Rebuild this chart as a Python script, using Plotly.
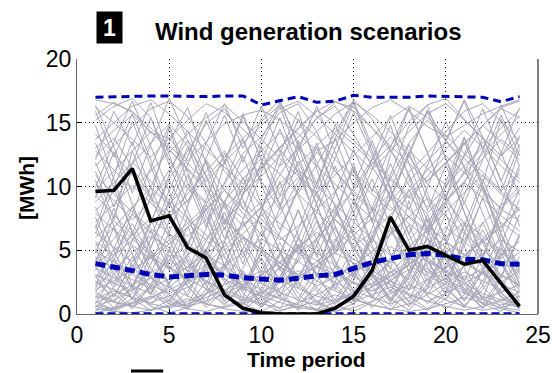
import plotly.graph_objects as go

periods = list(range(1, 25))

# Highlighted scenario (black)
highlight = [9.6, 9.7, 11.4, 7.3, 7.7, 5.2, 4.4, 1.5, 0.45, 0.1, 0.0, 0.0, 0.0, 0.45,
             1.4, 3.4, 7.6, 5.0, 5.3, 4.6, 3.9, 4.2, 2.4, 0.6]
# Mean of scenarios (thick blue dashed)
mean_vals = [3.95, 3.7, 3.4, 3.1, 2.9, 3.0, 3.1, 3.05, 2.85, 2.75, 2.65, 2.8, 3.0, 3.1,
             3.6, 4.05, 4.35, 4.65, 4.75, 4.6, 4.3, 4.25, 3.95, 3.9]
# Upper bound (blue dashed)
upper_vals = [17.0, 17.05, 17.05, 17.1, 17.1, 17.05, 17.05, 17.1, 17.1, 16.4, 16.7, 17.05,
              16.6, 16.7, 17.15, 17.0, 17.0, 17.0, 17.1, 17.05, 17.0, 17.0, 16.65, 17.05]
# Lower bound (blue dashed)
lower_vals = [0.0] * 24

# Gray scenarios
s01 = [16.8,16.5,15.9,14.2,13.8,12.0,13.5,14.9,15.6,16.0,15.2,14.1,12.8,13.6,15.0,16.2,16.8,15.9,14.7,13.9,14.8,15.7,16.3,16.8]
s02 = [15.2,16.3,16.9,15.4,12.1,9.8,8.7,10.2,12.6,13.9,15.8,16.5,14.3,11.2,9.6,11.8,13.2,15.1,16.4,16.9,15.3,13.8,12.4,14.6]
s03 = [12.4,13.8,11.5,9.2,10.6,12.8,14.9,16.1,13.7,10.4,8.2,9.5,11.7,14.2,16.8,15.3,12.9,10.1,8.4,9.9,12.3,14.8,16.1,15.4]
s04 = [10.2,8.9,7.4,8.8,11.3,13.6,12.1,9.7,7.9,6.2,7.8,10.4,12.7,11.2,9.4,8.1,10.6,13.4,15.2,13.7,11.5,9.8,8.2,7.3]
s05 = [8.1,9.6,11.8,13.4,14.9,13.2,10.8,8.5,6.9,8.4,10.9,13.1,15.4,16.3,14.1,11.6,9.2,7.6,6.3,8.7,11.2,13.5,12.1,10.6]
s06 = [6.4,5.2,4.1,5.8,7.9,9.4,11.2,12.8,10.6,8.3,6.1,4.7,5.9,7.6,9.8,12.1,13.9,12.4,10.2,8.9,7.1,5.6,6.8,8.4]
s07 = [4.2,5.9,7.8,6.4,4.9,3.6,5.1,7.2,9.3,11.4,12.9,11.1,9.2,7.4,5.8,4.3,3.2,4.8,6.7,8.9,10.4,12.2,13.7,12.5]
s08 = [3.1,2.4,1.8,2.9,4.2,5.6,4.3,3.1,2.2,1.6,2.8,4.1,5.9,7.4,6.2,4.8,3.6,2.7,3.9,5.2,4.1,3.2,2.5,3.4]
s09 = [2.2,3.4,4.8,6.1,5.2,3.9,2.6,1.7,1.1,0.8,1.5,2.7,3.8,3.1,2.4,1.8,2.6,3.9,5.4,6.8,5.7,4.4,3.1,2.2]
s10 = [1.4,0.9,0.6,1.2,2.1,3.3,4.6,3.8,2.7,1.9,1.2,0.7,0.4,0.9,1.7,2.8,4.1,5.3,4.4,3.3,2.4,1.6,1.1,0.8]
s11 = [0.6,1.1,1.9,2.8,2.1,1.4,0.8,0.5,0.9,1.6,2.5,3.4,2.6,1.8,1.2,0.7,0.4,0.8,1.5,2.4,3.3,2.6,1.9,1.3]
s12 = [5.3,6.8,8.4,9.9,8.6,7.1,5.8,4.4,3.2,2.5,3.6,5.1,6.7,8.2,9.6,8.3,6.9,5.4,4.1,3.3,4.5,5.9,7.2,6.1]
s13 = [14.1,12.6,10.9,9.1,7.6,8.9,10.7,12.3,13.8,15.1,16.4,15.2,13.9,12.1,10.8,9.4,8.1,9.6,11.3,12.9,14.4,13.1,11.6,10.3]
s14 = [11.6,13.2,14.7,16.1,16.7,15.5,13.4,11.2,9.5,10.8,12.4,13.9,15.3,16.6,16.2,14.6,12.8,11.1,12.6,14.3,15.9,16.5,15.1,13.6]
s15 = [9.3,7.8,6.2,4.9,3.7,2.8,3.9,5.3,6.8,8.4,9.9,11.3,10.1,8.6,7.2,5.9,4.6,5.8,7.3,8.8,10.3,9.1,7.7,6.5]
s16 = [7.2,8.6,10.1,8.7,7.3,6.1,7.4,8.9,10.6,12.2,11.0,9.4,8.0,6.6,5.3,6.4,7.8,9.3,10.8,12.4,11.1,9.6,8.3,9.7]
s17 = [2.8,3.9,3.1,2.3,1.6,2.4,3.5,4.7,6.0,5.1,4.0,3.0,2.2,2.9,3.8,4.9,6.3,7.7,6.5,5.2,4.0,3.1,2.3,1.7]
s18 = [0.3,0.5,0.9,1.4,0.8,0.4,0.2,0.6,1.1,1.7,1.2,0.7,0.3,0.2,0.5,1.0,1.6,2.3,1.7,1.1,0.6,0.3,0.5,0.9]
s19 = [13.0,14.4,15.6,14.3,12.9,11.3,9.7,8.3,9.8,11.5,13.1,14.6,16.0,15.0,13.6,12.2,10.7,9.2,7.9,9.4,11.0,12.6,14.1,15.5]
s20 = [4.9,4.1,3.3,4.5,5.8,7.1,8.5,7.3,6.0,4.8,3.7,2.9,3.8,4.9,6.2,7.5,6.4,5.2,4.2,3.4,2.7,3.6,4.6,5.7]
s21 = [16.2,15.0,13.7,12.3,13.8,15.2,16.5,15.8,14.5,13.0,11.6,12.9,14.3,15.7,16.6,15.6,14.3,12.8,11.4,10.1,11.6,13.1,14.6,16.0]
s22 = [1.9,2.6,3.5,4.4,3.6,2.7,2.0,1.3,0.8,1.3,2.0,2.9,3.8,4.8,4.0,3.1,2.3,1.6,1.0,1.6,2.4,3.2,4.1,3.3]
s23 = [8.8,10.3,11.9,10.4,8.9,7.5,6.2,5.0,6.3,7.7,9.2,10.7,9.3,7.9,6.5,5.2,4.0,5.3,6.6,8.0,9.5,10.9,9.6,8.2]
s24 = [3.6,2.9,2.2,1.6,1.0,0.6,1.0,1.6,2.3,3.1,4.0,5.0,4.2,3.3,2.5,1.8,2.6,3.5,4.5,5.6,4.7,3.8,3.0,2.3]
s25 = [0.9,1.5,2.3,3.2,4.2,3.4,2.6,1.9,1.3,0.8,0.5,0.9,1.5,2.3,3.2,4.2,5.3,4.4,3.5,2.7,2.0,1.4,0.9,0.5]
s26 = [12.8,11.3,9.8,11.2,12.7,14.1,15.4,16.4,15.1,13.7,12.2,10.8,9.5,10.9,12.4,13.9,15.3,16.3,15.4,14.0,12.6,11.1,9.7,11.0]
s27 = [6.0,7.3,5.9,4.6,3.5,4.6,5.9,7.3,8.8,7.4,6.0,4.8,3.7,2.8,3.8,4.9,6.2,7.6,9.1,7.7,6.3,5.0,3.9,4.8]
s28 = [10.9,9.4,8.0,6.7,5.5,6.8,8.2,9.7,11.3,12.8,14.2,13.0,11.6,10.2,8.8,7.5,8.9,10.4,12.0,13.5,12.2,10.8,9.4,8.1]
s29 = [2.5,1.9,1.3,0.9,1.4,2.1,2.9,3.8,4.8,5.9,5.0,4.1,3.2,2.5,1.8,1.3,0.8,1.3,2.0,2.8,3.7,4.7,5.8,4.9]
s30 = [5.7,4.6,5.8,7.1,8.6,10.2,8.8,7.4,6.1,5.0,4.0,3.1,4.1,5.3,6.6,8.0,9.5,8.2,6.9,5.7,4.6,5.7,6.9,8.2]
s31 = [1.2,1.8,1.3,0.8,0.5,0.8,1.3,1.9,2.6,3.4,2.7,2.0,1.4,1.0,1.5,2.1,2.9,3.8,3.0,2.3,1.6,1.1,0.7,1.1]
s32 = [15.6,16.6,15.8,14.6,13.2,11.8,10.4,11.9,13.4,14.8,16.1,16.7,15.5,14.1,12.7,11.3,12.8,14.3,15.7,16.5,15.2,13.8,12.4,13.8]
s33 = [7.9,6.6,5.4,4.3,5.5,6.8,8.2,9.7,8.3,7.0,5.8,6.9,8.2,9.6,11.1,9.8,8.4,7.1,5.9,4.8,5.9,7.1,8.5,10.0]
s34 = [0.4,0.2,0.1,0.3,0.7,1.2,0.8,0.4,0.2,0.1,0.3,0.6,1.0,1.5,1.1,0.7,0.4,0.2,0.4,0.8,1.3,0.9,0.5,0.3]
s35 = [3.9,5.0,6.2,7.5,6.3,5.1,4.0,3.1,2.3,3.1,4.1,5.2,6.4,5.3,4.3,3.4,2.6,1.9,2.7,3.6,4.6,5.7,4.8,3.8]
s36 = [9.7,11.2,12.8,14.3,12.9,11.4,10.0,8.7,7.5,8.8,10.2,11.7,13.2,14.6,13.3,11.9,10.5,9.1,10.5,11.9,13.4,14.8,13.5,12.1]
s37 = [1.6,1.0,0.6,0.3,0.6,1.0,1.6,2.3,3.1,2.4,1.7,1.1,0.7,1.1,1.7,2.4,3.2,4.1,3.3,2.5,1.8,1.2,1.7,2.3]
s38 = [4.5,3.5,2.7,2.0,2.8,3.7,4.7,5.8,7.0,8.3,7.1,5.9,4.8,3.8,2.9,2.2,3.0,3.9,4.9,6.0,7.2,6.1,5.0,4.0]
s39 = [13.7,15.0,16.3,16.8,15.7,14.3,12.9,11.5,10.2,11.6,13.0,14.5,15.9,16.7,15.9,14.6,13.2,11.8,10.4,11.8,13.3,14.8,16.2,16.7]
s40 = [0.7,0.4,0.8,1.3,1.9,2.6,3.4,2.7,2.0,1.4,0.9,0.5,0.3,0.6,1.0,1.5,2.1,1.5,1.0,0.6,0.3,0.6,1.1,1.7]
s41 = [11.2,7.4,12.8,9.1,14.6,10.3,6.8,11.9,15.7,12.1,8.4,13.6,9.8,14.9,11.3,7.2,12.5,16.1,12.7,9.0,13.8,10.2,15.3,11.6]
s42 = [3.4,6.8,2.1,5.9,9.7,4.6,8.3,3.7,1.2,5.8,10.4,6.1,2.9,7.6,11.8,7.3,3.5,8.9,4.2,1.6,6.3,10.1,5.7,2.4]
s43 = [0.8,3.2,1.1,4.7,2.3,0.6,3.9,6.8,2.9,0.5,2.6,5.4,1.8,0.4,3.1,6.2,2.7,0.9,4.4,7.9,3.6,1.2,4.8,2.0]
s44 = [14.8,10.6,6.3,9.9,13.5,16.2,11.8,7.4,3.9,8.1,12.6,15.9,11.4,6.9,2.8,6.7,10.9,14.7,16.4,12.2,8.0,4.3,8.6,12.9]
s45 = [6.7,10.8,15.1,11.6,7.8,4.1,1.9,5.6,9.4,13.2,16.3,12.4,8.5,4.7,7.9,11.4,14.8,10.7,6.6,2.7,5.3,9.1,12.7,16.2]
s46 = [2.6,1.3,4.1,7.2,10.5,7.6,4.3,1.5,0.7,3.3,6.4,9.8,13.1,9.6,6.2,3.1,1.0,2.9,6.1,9.3,6.5,3.6,1.4,0.6]
s47 = [9.1,12.7,8.6,5.2,8.9,12.3,15.8,12.0,8.2,11.9,15.4,11.5,7.3,3.6,7.1,10.6,6.9,3.3,6.8,10.4,13.9,10.1,6.4,9.8]
s48 = [1.8,0.5,2.2,4.9,2.4,5.3,8.6,5.1,2.0,4.4,1.7,0.4,2.5,5.6,8.9,5.4,2.2,0.6,2.8,1.1,3.9,7.2,4.0,1.3]
s49 = [12.1,15.9,13.2,16.6,12.5,8.7,12.2,15.6,11.9,15.3,16.8,13.1,9.4,13.0,16.5,12.8,9.1,12.6,16.0,13.5,16.7,12.9,9.6,13.3]
s50 = [5.1,2.3,5.7,9.2,5.9,2.6,0.9,3.8,7.3,4.1,1.3,4.6,8.0,11.6,7.9,4.5,1.7,4.9,2.1,5.4,8.8,5.6,2.5,0.8]
s51 = [0.2,1.6,0.4,2.3,5.1,2.2,0.5,1.9,0.3,1.4,3.8,1.6,0.2,2.4,0.7,3.3,1.2,0.3,2.0,4.6,1.9,0.4,2.7,1.0]
s52 = [7.6,4.2,7.9,11.5,14.8,11.1,7.7,4.5,1.8,4.8,8.3,12.0,8.6,5.0,8.4,12.1,15.6,11.8,8.1,11.7,8.0,4.6,7.9,11.4]
s53 = [16.4,13.1,9.5,13.3,16.9,13.6,10.1,6.6,10.0,13.7,16.6,13.4,10.2,13.8,16.7,13.2,9.7,6.2,9.9,13.6,16.8,13.9,10.4,14.0]
s54 = [4.0,7.7,11.3,7.5,3.8,1.4,4.9,8.7,12.4,8.6,4.8,2.0,5.4,2.1,0.7,3.6,7.4,11.0,7.2,3.5,6.9,10.6,7.0,3.4]
s55 = [2.0,4.3,2.0,0.7,2.4,4.6,2.3,5.7,2.7,0.9,2.9,5.5,3.0,1.1,3.4,1.2,4.3,7.0,3.7,1.5,0.5,2.6,5.2,2.8]
s56 = [10.5,6.9,3.6,7.1,10.9,14.4,10.8,7.0,10.7,6.8,3.4,6.6,10.3,13.8,10.0,13.6,9.9,6.3,3.0,6.5,10.2,13.9,10.5,6.9]
s57 = [8.4,5.0,1.9,5.2,8.8,5.5,8.9,12.6,9.0,5.3,2.4,5.9,9.6,6.2,3.0,6.0,9.7,13.3,9.5,5.8,2.6,5.9,2.8,6.3]
s58 = [0.5,2.1,4.5,2.0,0.4,1.8,3.9,1.6,3.6,6.5,3.5,1.2,3.7,6.9,3.8,1.4,0.3,1.9,4.2,2.0,0.6,2.2,0.5,1.8]
s59 = [13.4,9.9,13.5,10.0,6.4,9.8,13.4,16.5,13.0,16.3,12.8,9.2,5.8,9.5,12.9,9.6,13.1,16.2,12.6,9.1,12.5,16.1,12.6,9.3]
s60 = [3.0,0.9,3.3,6.6,3.4,6.9,3.6,1.0,3.2,0.6,2.9,6.0,3.1,0.8,2.6,5.9,9.2,5.7,2.5,5.0,2.3,0.7,3.0,6.1]
s61 = [6.3,9.9,6.5,3.2,6.4,3.3,6.7,10.3,13.7,10.1,6.6,9.9,13.4,9.7,6.1,2.9,6.3,9.8,6.4,9.9,13.5,9.8,6.2,3.1]
s62 = [1.0,0.3,1.2,3.0,1.3,0.4,1.5,3.5,6.0,3.3,1.4,0.3,1.6,3.7,1.8,0.5,1.9,0.6,2.3,4.8,2.6,0.8,0.2,1.4]
s63 = [15.9,12.3,15.7,12.0,8.4,11.7,15.2,11.8,15.5,12.1,8.6,5.1,8.7,12.3,15.8,12.5,9.0,12.4,15.9,12.2,8.7,12.1,15.6,12.4]
s64 = [4.8,8.3,4.7,1.6,4.9,8.4,12.0,8.5,4.9,1.7,4.6,8.1,4.5,8.0,11.5,8.2,4.7,1.9,5.1,8.7,5.3,2.2,5.5,9.0]
s65 = [2.3,5.1,8.4,5.0,2.1,0.5,2.6,1.0,3.4,1.3,0.4,2.8,5.8,3.0,1.0,3.6,6.8,3.9,1.5,3.8,7.1,4.0,1.7,0.5]
s66 = [11.9,8.4,11.8,15.4,11.7,8.2,4.6,8.0,4.4,8.1,11.7,15.3,11.9,8.4,4.9,8.3,11.8,8.2,11.6,15.1,11.5,7.9,4.3,7.8]
s67 = [0.6,0.2,0.9,2.2,0.8,2.6,4.9,2.5,0.8,0.2,1.0,2.5,1.0,0.3,1.3,3.1,1.2,3.3,1.4,0.4,1.5,3.5,1.6,0.4]
s68 = [7.0,3.7,1.2,3.9,7.3,10.9,7.2,3.8,7.4,11.1,14.5,11.0,7.5,4.0,1.3,4.2,7.7,4.1,7.8,4.3,1.6,4.5,8.1,11.7]
s69 = [3.7,1.4,3.9,1.5,4.2,7.6,4.1,1.6,0.4,2.0,4.7,8.2,4.6,1.9,4.8,2.1,0.6,2.3,5.2,2.4,5.6,9.1,5.4,2.3]
s70 = [9.9,13.5,16.7,13.2,9.6,13.1,9.5,5.9,9.4,12.9,9.3,12.8,16.3,12.7,9.2,5.6,9.1,12.7,9.0,5.7,9.3,12.9,16.4,13.0]
s71 = [1.3,2.9,1.2,0.3,1.1,2.7,5.0,2.8,1.0,2.6,4.8,2.5,0.9,0.2,0.8,2.2,4.4,2.4,0.8,2.1,0.7,1.9,4.0,2.1]
s72 = [4.4,2.0,0.6,2.1,4.6,2.2,0.7,2.4,5.1,8.0,5.0,2.3,0.7,2.5,5.3,3.0,1.1,3.1,6.0,3.2,1.1,3.4,1.3,0.4]
s73 = [2.9,4.6,7.1,4.5,2.4,4.3,2.2,0.8,2.3,4.9,2.7,1.0,3.0,5.9,3.3,1.3,3.4,1.4,0.4,1.6,3.8,6.6,3.9,1.8]
s74 = [0.1,0.4,1.7,0.6,0.1,0.5,1.9,0.7,2.2,0.9,0.2,0.8,2.1,0.7,0.2,0.9,2.6,1.0,0.3,1.2,3.0,1.2,0.4,0.1]
s75 = [5.6,3.1,5.3,2.9,1.0,3.0,5.7,8.8,5.5,3.0,5.6,2.8,5.4,8.5,5.2,2.7,0.9,2.9,5.9,3.1,1.0,3.3,6.3,3.5]
s76 = [1.7,3.8,6.4,3.6,1.5,0.4,1.6,3.9,1.6,0.5,1.9,4.3,7.3,4.2,1.8,4.0,1.7,4.4,7.5,4.3,1.9,0.5,2.0,4.5]

scenarios = [s01, s02, s03, s04, s05, s06, s07, s08, s09, s10, s11, s12, s13, s14,
             s15, s16, s17, s18, s19, s20, s21, s22, s23, s24, s25, s26, s27, s28,
             s29, s30, s31, s32, s33, s34, s35, s36, s37, s38, s39, s40, s41, s42,
             s43, s44, s45, s46, s47, s48, s49, s50, s51, s52, s53, s54, s55, s56,
             s57, s58, s59, s60, s61, s62, s63, s64, s65, s66, s67, s68, s69, s70,
             s71, s72, s73, s74, s75, s76]

x_ticks = [0, 5, 10, 15, 20, 25]
y_ticks = [0, 5, 10, 15, 20]

FONT = "Arial, 'Liberation Sans', sans-serif"
GRAY = "#a7a7b9"
BLUE = "#0000b4"

fig = go.Figure()
for s in scenarios:
    fig.add_trace(go.Scatter(x=periods, y=s, mode="lines",
                             line=dict(color=GRAY, width=1), hoverinfo="skip"))

fig.add_trace(go.Scatter(x=periods, y=lower_vals, mode="lines",
                         line=dict(color=BLUE, width=3.5, dash="8px,4px")))
fig.add_trace(go.Scatter(x=periods, y=mean_vals, mode="lines",
                         line=dict(color=BLUE, width=5, dash="10px,5px")))
fig.add_trace(go.Scatter(x=periods, y=upper_vals, mode="lines",
                         line=dict(color=BLUE, width=3, dash="8px,5px")))
fig.add_trace(go.Scatter(x=periods, y=highlight, mode="lines",
                         line=dict(color="black", width=3.5)))

axis_common = dict(
    showgrid=True, gridcolor="black", gridwidth=1, griddash="1px,3px",
    ticks="inside", ticklen=5, tickcolor="black", tickwidth=1,
    showline=True, linecolor="#666666", linewidth=1,
    zeroline=False, tickfont=dict(family=FONT, size=23, color="black"),
)

fig.update_xaxes(range=[0, 25], tickvals=x_ticks, **axis_common)
fig.update_yaxes(range=[0, 20], tickvals=y_ticks, **axis_common)

fig.update_layout(
    width=552, height=373,
    margin=dict(l=77, r=14, t=59, b=59, autoexpand=False),
    paper_bgcolor="white", plot_bgcolor="white",
    showlegend=False,
    font=dict(family=FONT, color="black"),
    annotations=[
        dict(text="<b>1</b>", x=0.0705, y=1.1235, xref="paper", yref="paper",
             xanchor="center", yanchor="middle", showarrow=False,
             font=dict(family=FONT, size=23, color="white"),
             bgcolor="black", width=17, height=23, borderpad=4),
        dict(text="<b>Wind generation scenarios</b>", x=0.1649, y=1.106,
             xref="paper", yref="paper", xanchor="left", yanchor="middle",
             showarrow=False, font=dict(family=FONT, size=24, color="black")),
        dict(text="<b>[MWh]</b>", x=-0.1106, y=0.494, xref="paper", yref="paper",
             xanchor="center", yanchor="middle", textangle=-90, showarrow=False,
             font=dict(family=FONT, size=21, color="black")),
        dict(text="<b>Time period</b>", x=0.497, y=-0.18, xref="paper", yref="paper",
             xanchor="center", yanchor="middle", showarrow=False,
             font=dict(family=FONT, size=21, color="black")),
    ],
    shapes=[
        dict(type="line", xref="paper", yref="paper", x0=1, x1=1, y0=0, y1=1,
             line=dict(color="black", width=1)),
        dict(type="line", xref="paper", yref="paper", x0=0.117, x1=0.187,
             y0=-0.2235, y1=-0.2235, line=dict(color="black", width=3)),
    ],
)

fig.write_html(
    "out.html",
    config={"displayModeBar": False, "staticPlot": True},
    post_script="document.body.style.margin='0';document.body.style.padding='0';"
                "document.body.style.overflow='hidden';",
)
